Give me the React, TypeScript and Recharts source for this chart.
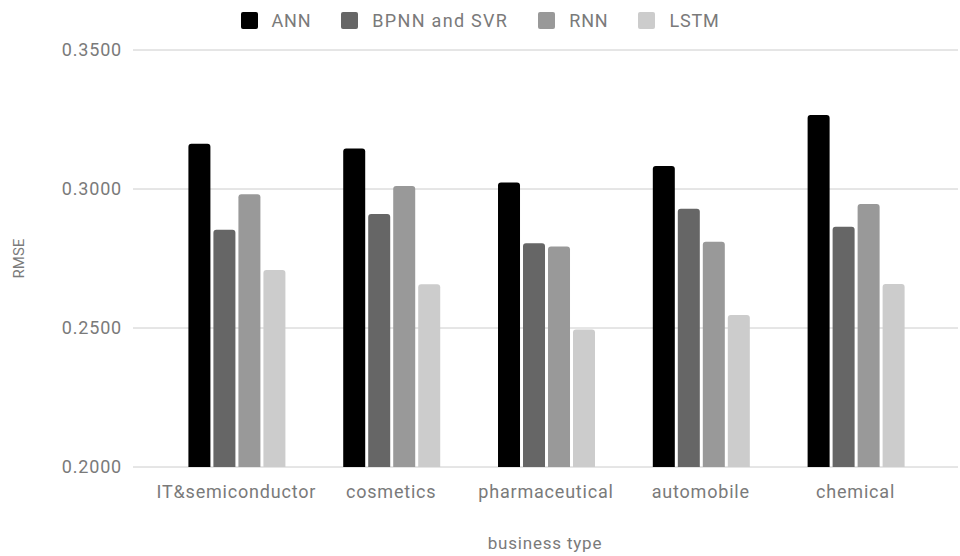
import React from 'react';
import { BarChart, Bar, XAxis, YAxis, CartesianGrid, Legend, Label } from 'recharts';

const categories = ['IT&semiconductor', 'cosmetics', 'pharmaceutical', 'automobile', 'chemical'];
const annValues = [0.3163, 0.3146, 0.3023, 0.3083, 0.3266];
const bpnnSvrValues = [0.2853, 0.2910, 0.2805, 0.2929, 0.2864];
const rnnValues = [0.2981, 0.3011, 0.2793, 0.2810, 0.2946];
const lstmValues = [0.2709, 0.2657, 0.2495, 0.2547, 0.2658];
const yTicks = [0.2, 0.25, 0.3, 0.35];

const seriesDefs = [
  { key: 'ANN', color: '#000000' },
  { key: 'BPNN and SVR', color: '#666666' },
  { key: 'RNN', color: '#999999' },
  { key: 'LSTM', color: '#cccccc' },
];

const data = categories.map((c, i) => ({
  name: c,
  ANN: annValues[i],
  'BPNN and SVR': bpnnSvrValues[i],
  RNN: rnnValues[i],
  LSTM: lstmValues[i],
}));

const FONT = 'Roboto, "Noto Sans", sans-serif';
const TEXT = '#7a7a7a';
const LS = 0.8;

const LegendContent = () => (
  <div style={{ display: 'flex', justifyContent: 'center', alignItems: 'center', height: 22, fontFamily: FONT, fontSize: 18, letterSpacing: LS, color: TEXT }}>
    {seriesDefs.map((s, i) => (
      <div key={s.key} style={{ display: 'flex', alignItems: 'center', marginLeft: i === 0 ? 0 : 30 }}>
        <div style={{ width: 17, height: 17, background: s.color, borderRadius: 2, marginRight: 14 }} />
        <span style={{ letterSpacing: i === 1 ? 1.3 : LS }}>{s.key}</span>
      </div>
    ))}
  </div>
);

export default function App() {
  return (
    <div style={{ position: 'absolute', left: 0, top: 0, width: 960, height: 556, background: '#fff' }}>
      <BarChart
        width={960}
        height={556}
        data={data}
        margin={{ top: 28, right: 2, bottom: 0, left: 0 }}
        barCategoryGap="19%"
        barGap={3}
      >
        <CartesianGrid vertical={false} stroke="#cccccc" />
        <XAxis
          dataKey="name"
          axisLine={false}
          tickLine={false}
          tickSize={0}
          tickMargin={18}
          height={89}
          padding={{ left: 26, right: 25 }}
          tick={{ fill: TEXT, fontSize: 18, fontFamily: FONT, letterSpacing: LS }}
        >
          <Label
            content={() => (
              <text x={545} y={545} textAnchor="middle" fill={TEXT} fontSize={17} fontFamily={FONT} letterSpacing={LS} dominantBaseline="middle">
                business type
              </text>
            )}
          />
        </XAxis>
        <YAxis
          width={133}
          domain={[0.2, 0.35]}
          ticks={yTicks}
          axisLine={false}
          tickLine={false}
          tickSize={0}
          tickMargin={11}
          tickFormatter={(v: number) => v.toFixed(4)}
          tick={{ fill: TEXT, fontSize: 18, fontFamily: FONT, letterSpacing: LS }}
        >
          <Label
            content={(props: any) => {
              const vb = props.viewBox;
              const cy = vb.y + vb.height / 2;
              return (
                <text x={20} y={cy} transform={`rotate(-90 20 ${cy})`} textAnchor="middle" dominantBaseline="middle" fill={TEXT} fontSize={15} fontFamily={FONT}>
                  RMSE
                </text>
              );
            }}
          />
        </YAxis>
        <Legend verticalAlign="top" content={<LegendContent />} wrapperStyle={{ top: 9, left: 0, width: 960 }} />
        {seriesDefs.map((s) => (
          <Bar key={s.key} dataKey={s.key} fill={s.color} radius={[3, 3, 0, 0]} isAnimationActive={false} />
        ))}
      </BarChart>
    </div>
  );
}
